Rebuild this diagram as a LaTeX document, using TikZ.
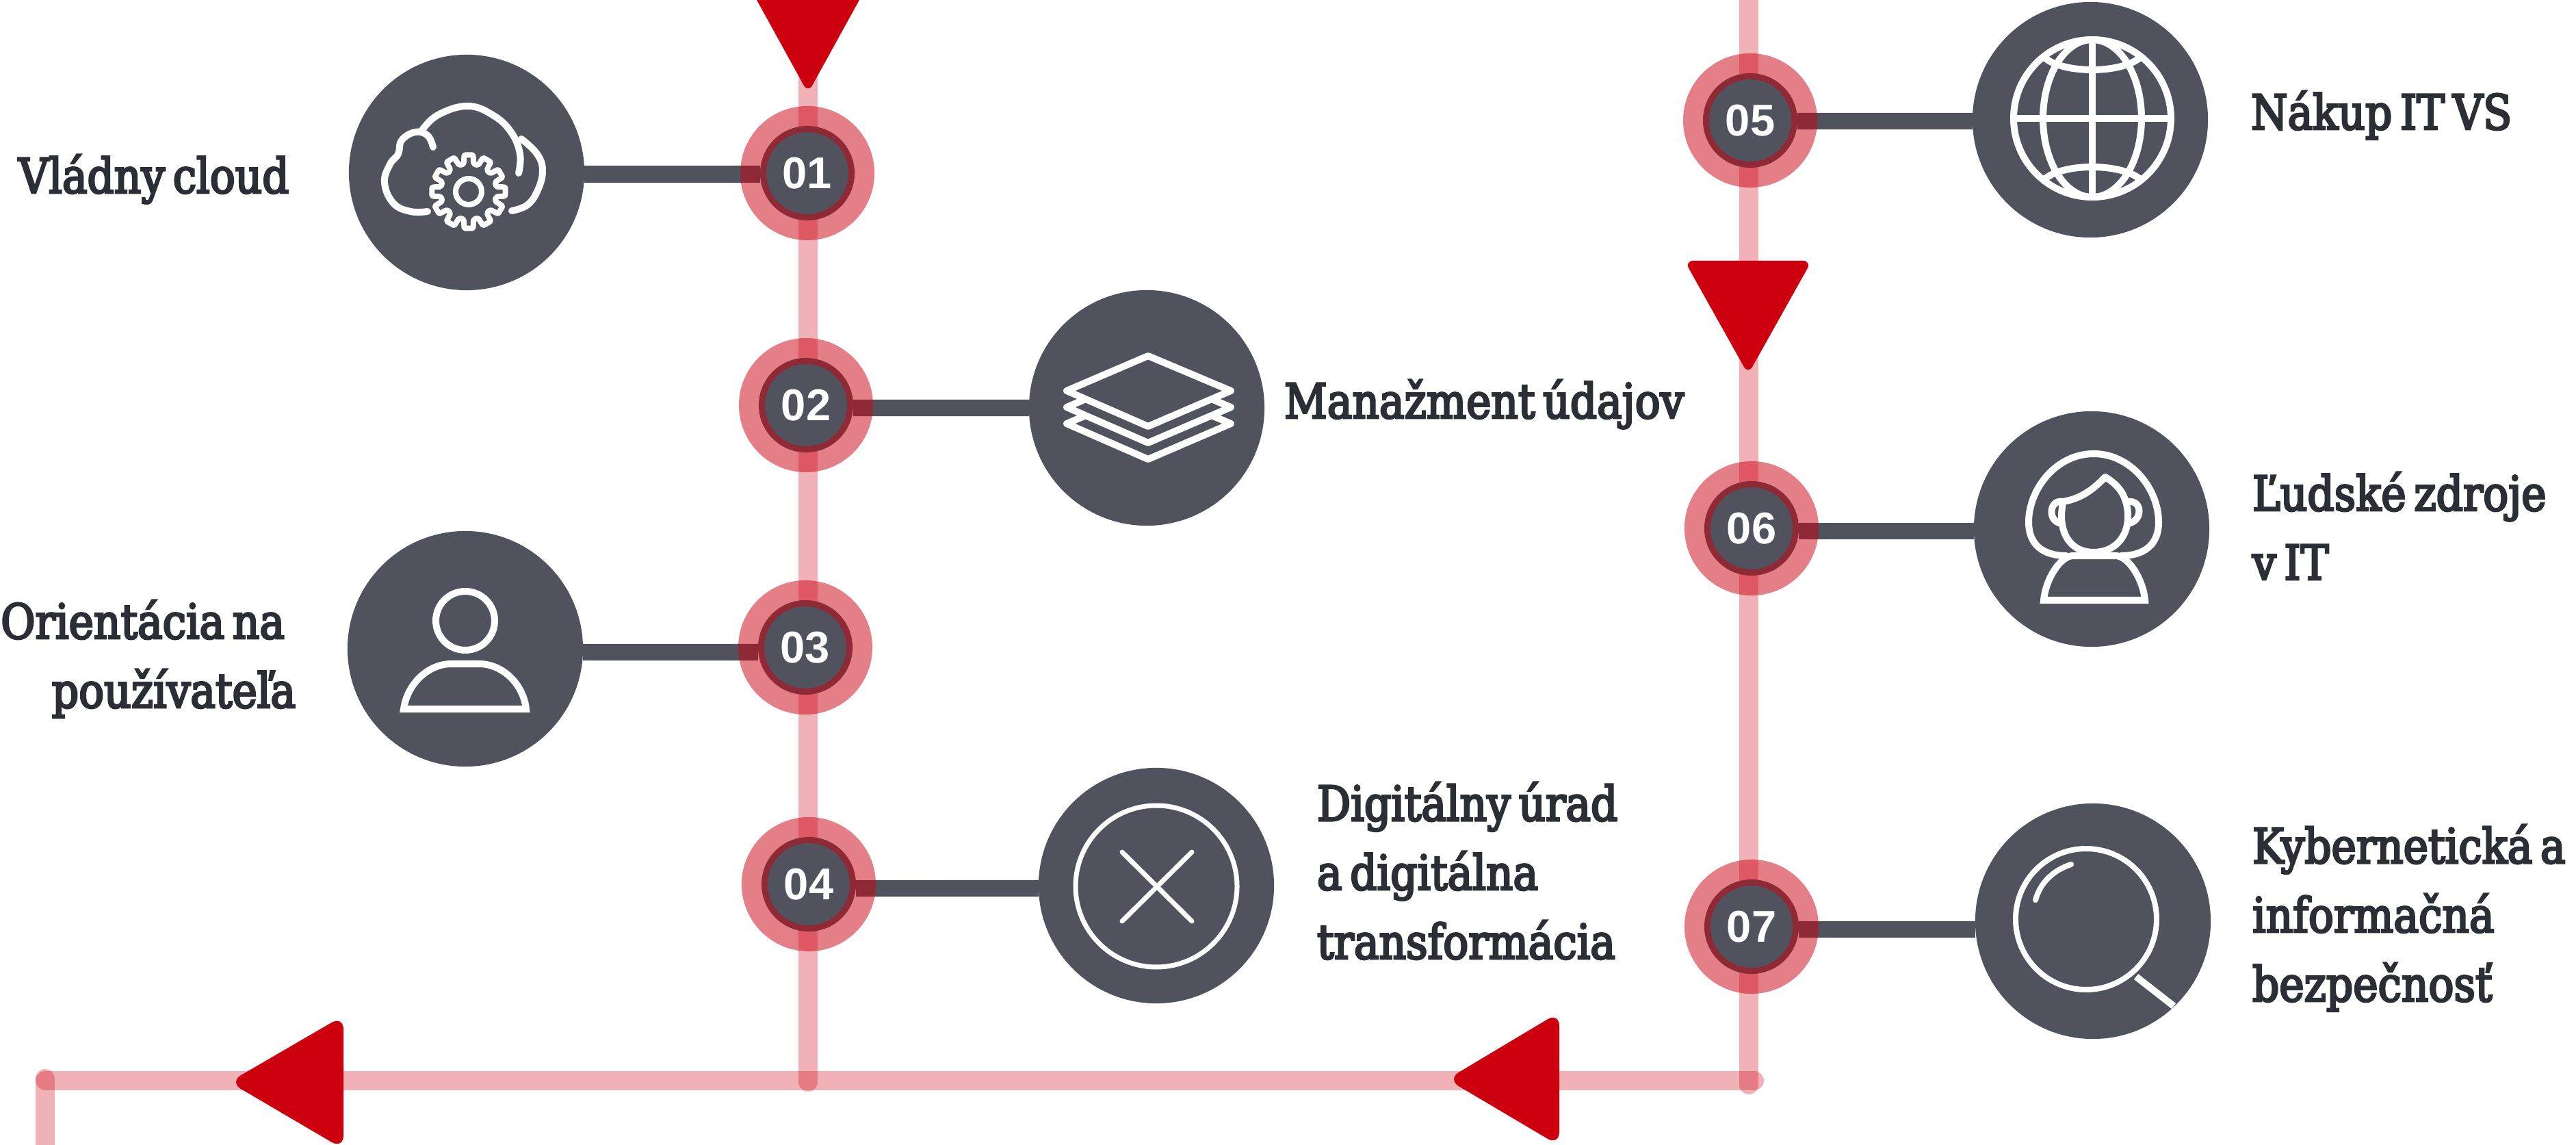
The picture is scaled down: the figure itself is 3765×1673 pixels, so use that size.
\documentclass[tikz,border=0pt]{standalone}
\usepackage{fontspec}
\setmainfont{Liberation Sans}
\newfontfamily\lblfam[FakeBold=4,FakeStretch=0.97,WordSpace=0.6]{DejaVu Serif Condensed}
\usetikzlibrary{backgrounds}
\definecolor{slate}{HTML}{50535E}
\definecolor{brand}{HTML}{CC000F}
\definecolor{ink}{HTML}{2B2E35}
\tikzset{
  bigdisc/.style={circle,fill=slate,minimum size=3.44cm,inner sep=0pt,outer sep=0pt},
  numdisc/.style={circle,fill=slate,minimum size=1.38cm,inner sep=0pt,outer sep=0pt,text=white,font=\bfseries\fontsize{18.5}{19}\selectfont},
  halo/.style={circle,draw=brand,draw opacity=.5,line width=.38cm,minimum size=1.58cm,inner sep=0pt,outer sep=0pt},
  rail/.style={draw=brand,draw opacity=.3,line width=.28cm,line cap=round},
  conn/.style={draw=slate,line width=.24cm},
  icon/.style={draw=white,line width=.1cm,line cap=round,line join=round},
  label/.style={anchor=base west,inner sep=0pt,outer sep=0pt,text=ink,align=left,font=\lblfam\fontsize{20}{28.7}\selectfont},
  rlabel/.style={label,anchor=base east,align=right},
  tip/.style={fill=brand,rounded corners=.13cm},
  sidetip/.style={fill=brand,rounded corners=.2cm}
}
\begin{document}
\begin{tikzpicture}[x=.01cm,y=-.01cm]
\useasboundingbox (0,0) rectangle (3765,1673);

% big discs
\node[bigdisc] (b1) at (682,252) {};
\node[bigdisc] (b2) at (1676,596) {};
\node[bigdisc] (b3) at (680,948) {};
\node[bigdisc] (b4) at (1690,1294) {};
\node[bigdisc] (b5) at (3055,175) {};
\node[bigdisc] (b6) at (3057,773) {};
\node[bigdisc] (b7) at (3059,1346) {};

% number discs
\node[numdisc] (n1) at (1180,253) {01};
\node[numdisc] (n2) at (1178,592) {02};
\node[numdisc] (n3) at (1177,946) {03};
\node[numdisc] (n4) at (1182,1292) {04};
\node[numdisc] (n5) at (2558,176) {05};
\node[numdisc] (n6) at (2560,772) {06};
\node[numdisc] (n7) at (2560,1354) {07};

% rail end points
\coordinate (ra) at (1181,-30);
\coordinate (rb) at (1181,1581);
\coordinate (rc) at (2556,-30);
\coordinate (rd) at (2556,1585);
\coordinate (re) at (2564,1579);
\coordinate (rf) at (66,1579);
\coordinate (rg) at (66,1576);
\coordinate (rh) at (66,1700);

\begin{scope}[on background layer]
  \draw[rail] (ra) -- (rb);
  \draw[rail] (rc) -- (rd);
  \draw[rail] (re) -- (rf);
  \draw[rail] (rg) -- (rh);
  \draw[conn] ([yshift=-.025cm]b1.east) -- ([yshift=-.015cm]n1.west);
  \draw[conn] (b2.west) -- ([yshift=-.04cm]n2.east);
  \draw[conn] ([yshift=-.05cm]b3.east) -- ([yshift=-.07cm]n3.west);
  \draw[conn] ([yshift=-.04cm]b4.west) -- ([yshift=-.06cm]n4.east);
  \draw[conn] ([yshift=-.02cm]b5.west) -- ([yshift=-.01cm]n5.east);
  \draw[conn] ([yshift=-.03cm]b6.west) -- ([yshift=-.04cm]n6.east);
  \draw[conn] ([yshift=-.12cm]b7.west) -- ([yshift=-.04cm]n7.east);
\end{scope}

% halos over the number discs
\foreach \k in {1,...,7} { \node[halo] (h\k) at (n\k) {}; }

% arrow tips
\fill[tip] (1095,-20) -- (1267,-20) -- (1181,136) -- cycle;
\fill[tip] (2462,381) -- (2648,381) -- (2555,547) -- cycle;
\fill[sidetip] (335,1581) -- (502,1484) -- (502,1679) -- cycle;
\fill[sidetip] (2115,1577) -- (2279,1479) -- (2279,1674) -- cycle;

% icon 1: cloud and gear
\draw[icon] plot[smooth,tension=.7] coordinates {(625,309) (600,309) (575,297) (562,267) (570,240) (582,225) (587,205) (607,193) (625,198) (633,215)};
\draw[icon] plot[smooth,tension=.7] coordinates {(617,190) (640,168) (683,155) (720,168) (747,193) (760,225) (758,253)};
\draw[icon] plot[smooth,tension=.7] coordinates {(762,203) (785,225) (793,250) (785,280) (770,300) (748,308)};
\begin{scope}[shift={(685,280)}]
  \draw[icon,line width=.08cm,rounded corners=.02cm] (-10:41)
    \foreach \a in {0,30,...,330} { -- (\a-10:41) -- (\a-7:54) -- (\a+7:54) -- (\a+10:41) } -- cycle;
  \draw[icon,line width=.08cm] (0,0) circle [radius=19];
\end{scope}

% icon 2: layers
\foreach \d in {48,24,0} {
  \draw[icon,fill=slate] (1678,520+\d) -- (1799,571+\d) -- (1678,623+\d) -- (1559,571+\d) -- cycle;
}

% icon 3: user
\draw[icon] (680,907) circle [radius=43];
\draw[icon,line cap=butt,line join=miter] (590,1036) -- (769,1036) .. controls (765,1000) and (735,970) .. (700,970) -- (660,970) .. controls (625,970) and (595,1000) .. (590,1036) -- cycle;

% icon 4: circled cross
\draw[icon,line width=.07cm] (1690,1295) circle [radius=118];
\draw[icon,line width=.07cm] (1640,1245) -- (1742,1346);
\draw[icon,line width=.07cm] (1742,1245) -- (1640,1346);

% icon 5: globe
\draw[icon] (3058,173) circle [radius=115];
\draw[icon] (3058,173) ellipse [x radius=72,y radius=115];
\draw[icon] (3058,58) -- (3058,288);
\draw[icon] (2943,173) -- (3173,173);
\draw[icon] (2988,84) .. controls (3015,108) and (3100,108) .. (3128,84);
\draw[icon] (2988,262) .. controls (3015,238) and (3100,238) .. (3128,262);

% icon 6: woman
\draw[icon] (3020,812) .. controls (2985,812) and (2965,795) .. (2965,763) .. controls (2965,715) and (3005,663) .. (3060,663) .. controls (3115,663) and (3155,715) .. (3155,763) .. controls (3155,795) and (3135,812) .. (3100,812);
\draw[icon] (3015,733) .. controls (3045,728) and (3062,712) .. (3077,697) .. controls (3095,708) and (3108,722) .. (3110,750) .. controls (3112,785) and (3090,807) .. (3060,807) .. controls (3030,807) and (3012,785) .. (3013,750) -- (3015,733);
\draw[icon] (3014,733) .. controls (2995,730) and (2992,762) .. (3013,765);
\draw[icon] (3110,733) .. controls (3132,730) and (3132,762) .. (3110,765);
\draw[icon,line cap=butt,line join=miter] (2987,877) -- (3135,877) .. controls (3132,845) and (3110,812) .. (3092,812) -- (3030,812) .. controls (3012,812) and (2990,845) .. (2987,877) -- cycle;

% icon 7: magnifier
\draw[icon,line width=.08cm] (3049,1343) circle [radius=103];
\draw[icon,line cap=butt,line width=.1cm] (3122,1427) -- (3177,1470);
\draw[icon,line width=.08cm] (2975,1315) .. controls (2982,1290) and (3000,1272) .. (3027,1263);

% labels
\node[label] (t1) at (27,282) {Vládny cloud};
\node[label] (t2) at (1877,611) {Manažment údajov};
\node[rlabel] (t3) at (432,1034) {Orientácia na\kern.16cm\\používateľa};
\node[label] (t4) at (1925,1401) {Digitálny úrad\\a digitálna\\transformácia};
\node[label] (t5) at (3290,189) {Nákup IT VS};
\node[label] (t6) at (3292,847) {Ľudské zdroje\\v IT};
\node[label] (t7) at (3292,1463) {Kybernetická a\\informačná\\bezpečnosť};
\end{tikzpicture}
\end{document}
